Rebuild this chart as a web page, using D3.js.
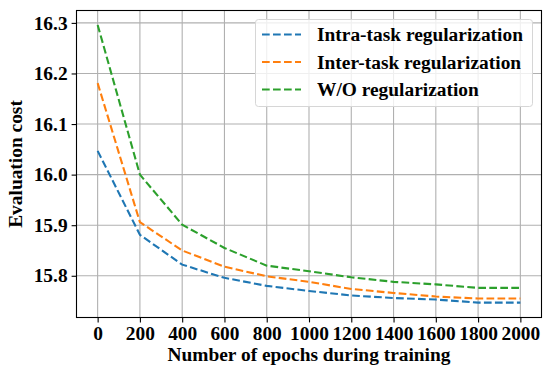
<!DOCTYPE html>
<html>
<head>
<meta charset="utf-8">
<script src="https://cdn.jsdelivr.net/npm/d3@7"></script>
<style>
  body { margin: 0; background: #fff; }
  svg { display: block; font-family: "Liberation Serif", "Times New Roman", serif; font-weight: bold; }
</style>
</head>
<body>
<svg></svg>
<script>
var epochs = [0, 200, 400, 600, 800, 1000, 1200, 1400, 1600, 1800, 2000];
var intraTask = [16.047, 15.881, 15.822, 15.796, 15.780, 15.770, 15.761, 15.756, 15.753, 15.747, 15.747];
var interTask = [16.181, 15.906, 15.850, 15.818, 15.799, 15.788, 15.774, 15.766, 15.759, 15.755, 15.755];
var withoutReg = [16.296, 16.000, 15.901, 15.855, 15.820, 15.809, 15.797, 15.788, 15.783, 15.776, 15.776];
var seriesNames = ["Intra-task regularization", "Inter-task regularization", "W/O regularization"];
var xTicks = [0, 200, 400, 600, 800, 1000, 1200, 1400, 1600, 1800, 2000];
var yTicks = [15.8, 15.9, 16.0, 16.1, 16.2, 16.3];

var width = 551, height = 377;
var plotLeft = 76.5, plotRight = 541.5, plotTop = 10.5, plotBottom = 317.5;
var colors = ["#1f77b4", "#ff7f0e", "#2ca02c"];
var series = [intraTask, interTask, withoutReg];
var fontSize = "19.4px";

var svg = d3.select("svg")
  .attr("width", width)
  .attr("height", height);

var x = d3.scaleLinear().domain([-100, 2100]).range([plotLeft, plotRight]);
var y = d3.scaleLinear().domain([15.7175, 16.3245]).range([plotBottom, plotTop]);

// grid
var grid = svg.append("g");
grid.selectAll("line.v")
  .data(xTicks)
  .enter().append("line")
  .attr("class", "v")
  .attr("x1", function(d) { return x(d); })
  .attr("x2", function(d) { return x(d); })
  .attr("y1", plotTop)
  .attr("y2", plotBottom)
  .attr("stroke", "#b0b0b0")
  .attr("stroke-width", 1.1);
grid.selectAll("line.h")
  .data(yTicks)
  .enter().append("line")
  .attr("class", "h")
  .attr("x1", plotLeft)
  .attr("x2", plotRight)
  .attr("y1", function(d) { return y(d); })
  .attr("y2", function(d) { return y(d); })
  .attr("stroke", "#b0b0b0")
  .attr("stroke-width", 1.1);

// lines
var line = d3.line()
  .x(function(d, i) { return x(epochs[i]); })
  .y(function(d) { return y(d); });

svg.append("g").selectAll("path")
  .data(series)
  .enter().append("path")
  .attr("d", line)
  .attr("fill", "none")
  .attr("stroke", function(d, i) { return colors[i]; })
  .attr("stroke-width", 2.1)
  .attr("stroke-dasharray", "7.7,3.3");

// axes
var xAxis = svg.append("g")
  .attr("transform", "translate(0," + plotBottom + ")")
  .call(d3.axisBottom(x).tickValues(xTicks).tickFormat(d3.format("d")).tickSize(4.9).tickPadding(4));
var yAxis = svg.append("g")
  .attr("transform", "translate(" + plotLeft + ",0)")
  .call(d3.axisLeft(y).tickValues(yTicks).tickFormat(d3.format(".1f")).tickSize(4.9).tickPadding(4));

[xAxis, yAxis].forEach(function(a) {
  a.select(".domain").remove();
  a.selectAll(".tick line").attr("stroke", "#000").attr("stroke-width", 1.1);
  a.selectAll(".tick text")
    .attr("fill", "#000")
    .style("font-family", "'Liberation Serif', serif")
    .style("font-weight", "bold")
    .style("font-size", fontSize);
});

svg.append("rect")
  .attr("x", plotLeft)
  .attr("y", plotTop)
  .attr("width", plotRight - plotLeft)
  .attr("height", plotBottom - plotTop)
  .attr("fill", "none")
  .attr("stroke", "#000")
  .attr("stroke-width", 1.1);

// axis labels
svg.append("text")
  .attr("x", (plotLeft + plotRight) / 2)
  .attr("y", 361)
  .attr("text-anchor", "middle")
  .style("font-size", fontSize)
  .text("Number of epochs during training");

svg.append("text")
  .attr("transform", "translate(21.5," + (plotTop + plotBottom) / 2 + ") rotate(-90)")
  .attr("text-anchor", "middle")
  .style("font-size", fontSize)
  .text("Evaluation cost");

// legend
var legend = svg.append("g");
legend.append("rect")
  .attr("x", 255.5)
  .attr("y", 19.5)
  .attr("width", 277)
  .attr("height", 87)
  .attr("rx", 3)
  .attr("fill", "#fff")
  .attr("fill-opacity", 0.8)
  .attr("stroke", "#d6d6d6")
  .attr("stroke-width", 1);

var items = legend.selectAll("g.item")
  .data(seriesNames)
  .enter().append("g")
  .attr("class", "item")
  .attr("transform", function(d, i) { return "translate(0," + (34.5 + i * 27.5) + ")"; });
items.append("line")
  .attr("x1", 262)
  .attr("x2", 301)
  .attr("y1", 0)
  .attr("y2", 0)
  .attr("stroke", function(d, i) { return colors[i]; })
  .attr("stroke-width", 2.1)
  .attr("stroke-dasharray", "7.7,3.3");
items.append("text")
  .attr("x", 317)
  .attr("y", 6.5)
  .style("font-size", fontSize)
  .text(function(d) { return d; });
</script>
</body>
</html>
